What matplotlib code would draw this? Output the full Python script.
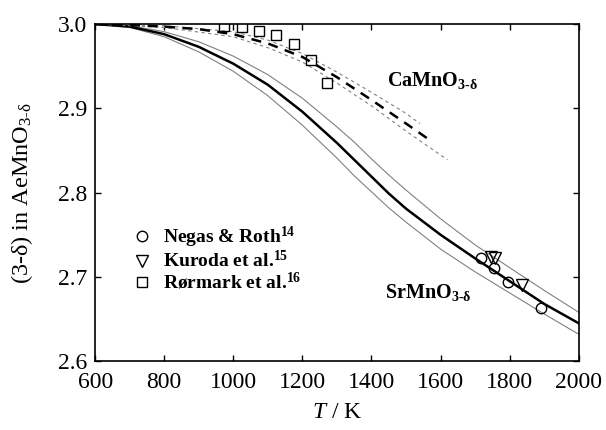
import numpy as np
import matplotlib
matplotlib.use("Agg")
import matplotlib.pyplot as plt

plt.rcParams['font.family'] = ['Liberation Serif', 'DejaVu Serif']
plt.rcParams['mathtext.fontset'] = 'custom'
plt.rcParams['mathtext.rm'] = 'Liberation Serif'
plt.rcParams['mathtext.it'] = 'Liberation Serif:italic'
plt.rcParams['mathtext.bf'] = 'Liberation Serif:bold'

# SrMnO3-d model curves (centre and bounds)
T_sr = [600, 700, 800, 900, 1000, 1100, 1200, 1300, 1350, 1400, 1450, 1500, 1600, 1700, 1800, 1900, 2000]
sr_mid = [3.000, 2.997, 2.988, 2.973, 2.953, 2.928, 2.896, 2.859, 2.839, 2.819, 2.799, 2.781, 2.750, 2.722, 2.695, 2.668, 2.645]
sr_up = [3.000, 2.998, 2.991, 2.979, 2.962, 2.940, 2.912, 2.878, 2.860, 2.840, 2.821, 2.803, 2.769, 2.738, 2.711, 2.684, 2.658]
sr_lo = [3.000, 2.996, 2.985, 2.967, 2.944, 2.915, 2.880, 2.841, 2.820, 2.801, 2.782, 2.765, 2.733, 2.706, 2.681, 2.656, 2.632]

# CaMnO3-d model curves
T_ca_mid = [600, 700, 800, 900, 1000, 1100, 1200, 1300, 1400, 1500, 1570]
ca_mid = [3.000, 2.999, 2.997, 2.994, 2.988, 2.977, 2.961, 2.937, 2.910, 2.882, 2.862]
T_ca_up = [600, 800, 1000, 1100, 1200, 1300, 1400, 1500, 1540]
ca_up = [3.000, 2.998, 2.991, 2.981, 2.965, 2.943, 2.919, 2.894, 2.882]
T_ca_lo = [600, 800, 1000, 1100, 1200, 1300, 1400, 1500, 1620]
ca_lo = [3.000, 2.996, 2.985, 2.972, 2.955, 2.930, 2.903, 2.873, 2.839]

# experimental data
negas_T = [1716, 1755, 1796, 1892]
negas_y = [2.723, 2.711, 2.694, 2.663]
kuroda_T = [1745, 1757, 1835]
kuroda_y = [2.724, 2.723, 2.690]
rormark_T = [973, 1024, 1074, 1124, 1175, 1224, 1272]
rormark_y = [2.998, 2.996, 2.992, 2.987, 2.976, 2.957, 2.930]

fig = plt.figure(figsize=(6.06, 4.30), dpi=100)
ax = fig.add_axes([0.157, 0.160, 0.798, 0.784])

gray = '#808080'
ax.plot(T_sr, sr_up, color=gray, lw=0.8)
ax.plot(T_sr, sr_lo, color=gray, lw=0.8)
ax.plot(T_sr, sr_mid, color='black', lw=1.8)

ax.plot(T_ca_up, ca_up, color=gray, lw=0.8, dashes=(3, 3))
ax.plot(T_ca_lo, ca_lo, color=gray, lw=0.8, dashes=(3, 3))
ax.plot(T_ca_mid, ca_mid, color='black', lw=1.8, dashes=(4, 3))

mk = dict(ls='none', mfc='none', mec='black', mew=1.0)
ax.plot(negas_T, negas_y, marker='o', ms=7.5, label=r'Negas & Roth$^{\mathbf{14}}$', **mk)
ax.plot(kuroda_T, kuroda_y, marker='v', ms=8, label=r'Kuroda et al.$^{\mathbf{15}}$', **mk)
ax.plot(rormark_T, rormark_y, marker='s', ms=6.5, label=r'Rørmark et al.$^{\mathbf{16}}$', **mk)

ax.text(1445, 2.926, r'CaMnO$_{\mathbf{3\text{-}δ}}$', fontsize=14.5, fontweight='bold')
ax.text(1439, 2.675, r'SrMnO$_{\mathbf{3\text{-}δ}}$', fontsize=14.5, fontweight='bold')

leg = ax.legend(loc='upper left', bbox_to_anchor=(0.077, 0.405), frameon=False,
                handlelength=1.0, handletextpad=0.6, labelspacing=0.02,
                borderpad=0, borderaxespad=0, prop={'size': 14, 'weight': 'bold'})

ax.set_xlim(600, 2000)
ax.set_ylim(2.6, 3.0)
ax.set_xticks([600, 800, 1000, 1200, 1400, 1600, 1800, 2000])
ax.set_yticks([2.6, 2.7, 2.8, 2.9, 3.0])
ax.set_yticklabels(['2.6', '2.7', '2.8', '2.9', '3.0'])
ax.tick_params(direction='in', top=True, right=True, length=4.5, width=1, labelsize=17)
ax.tick_params(axis='x', pad=8)
ax.tick_params(axis='y', pad=6)
for s in ax.spines.values():
    s.set_linewidth(1.2)

ax.set_xlabel(r'$T$ / K', fontsize=17, labelpad=6)
ax.set_ylabel(r'(3-δ) in AeMnO$_{\mathrm{3\text{-}δ}}$', fontsize=17.5, labelpad=16)

fig.savefig('out.png', dpi=100)
